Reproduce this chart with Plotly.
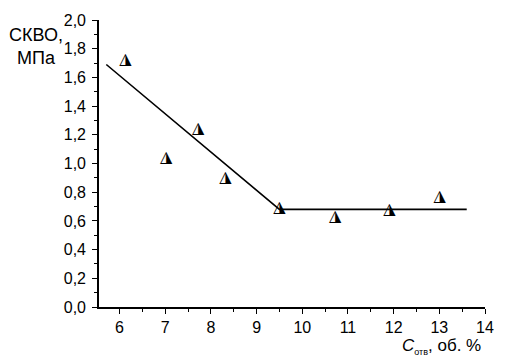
import plotly.graph_objects as go

# measured points
pts_x = [6.13, 7.02, 7.72, 8.32, 9.5, 10.72, 11.91, 13.01]
pts_y = [1.72, 1.04, 1.24, 0.90, 0.687, 0.627, 0.673, 0.767]

# fitted broken line
line_x = [5.71, 9.5, 13.6]
line_y = [1.69, 0.68, 0.68]

x_ticks = [6, 7, 8, 9, 10, 11, 12, 13, 14]
y_ticks = [0.0, 0.2, 0.4, 0.6, 0.8, 1.0, 1.2, 1.4, 1.6, 1.8, 2.0]

fig = go.Figure()
fig.add_trace(go.Scatter(x=line_x, y=line_y, mode="lines",
                         line=dict(color="black", width=1.6), hoverinfo="skip"))
fig.add_trace(go.Scatter(x=pts_x, y=pts_y, mode="text", text=["◮"] * len(pts_x),
                         textposition="middle center",
                         textfont=dict(family="DejaVu Sans", size=16, color="black")))

axis_common = dict(showline=True, linecolor="black", linewidth=1.6, showgrid=False,
                   zeroline=False, ticks="outside", ticklen=5, tickwidth=1.4,
                   tickcolor="black", tickfont=dict(family="Liberation Sans", size=16, color="black"),
                   mirror=False)

fig.update_layout(
    width=506, height=363,
    margin=dict(l=99, r=13, t=16, b=56),
    paper_bgcolor="white", plot_bgcolor="white",
    showlegend=False,
    separators=", ",
    xaxis=dict(range=[5.55, 14], tickvals=x_ticks, ticktext=[str(v) for v in x_ticks],
               minor=dict(dtick=0.5, tick0=5.5, ticks="outside", ticklen=3, tickwidth=1.2, tickcolor="black"),
               **axis_common),
    yaxis=dict(range=[0, 2.0], tickvals=y_ticks, tickformat=".1f", ticklabelstandoff=3,
               minor=dict(dtick=0.1, tick0=0, ticks="outside", ticklen=3, tickwidth=1.2, tickcolor="black"),
               **axis_common),
    annotations=[
        dict(xref="paper", yref="paper", x=-0.162, y=0.988, xanchor="center", yanchor="top",
             text="СКВО,<br>МПа", showarrow=False, align="center",
             font=dict(family="Liberation Sans", size=18, color="black")),
        dict(xref="paper", yref="paper", x=0.995, y=-0.095, xanchor="right", yanchor="top",
             text="<i>C</i><sub><span style='font-size:9px'>отв</span></sub>, об. %", showarrow=False,
             font=dict(family="Liberation Sans", size=17, color="black")),
    ],
)

fig.write_html("out.html", config={"displayModeBar": False},
               post_script="document.body.style.margin='0';")
